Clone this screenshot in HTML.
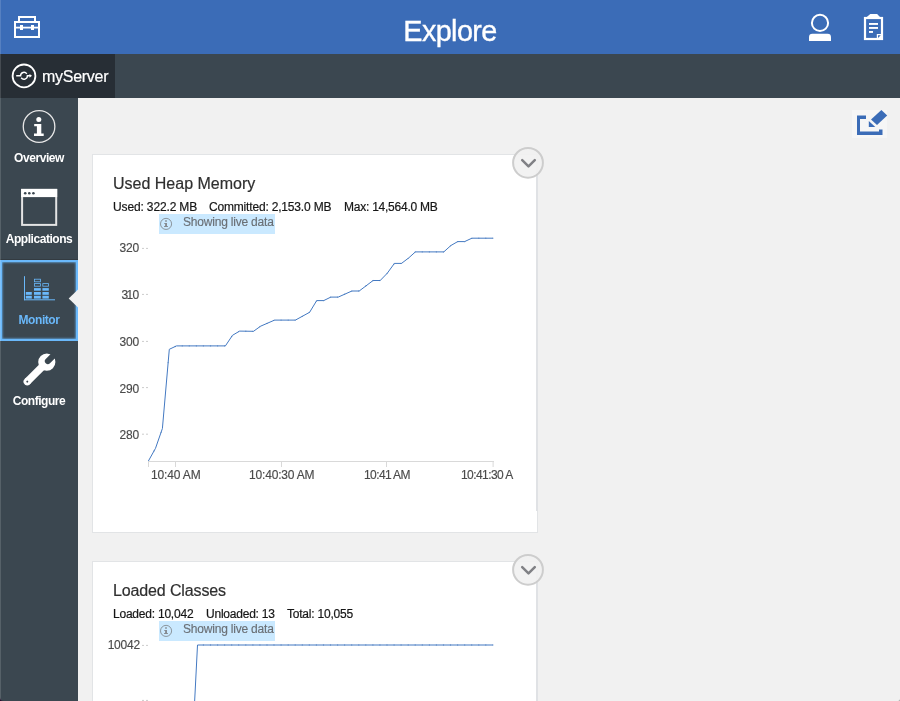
<!DOCTYPE html>
<html>
<head>
<meta charset="utf-8">
<title>Explore</title>
<style>
*{box-sizing:border-box;margin:0;padding:0}
html,body{width:900px;height:701px;overflow:hidden;background:#f1f1f1;font-family:"Liberation Sans",sans-serif;}
body{position:relative}
.abs{position:absolute}
#title,#tabtxt,.nav,.ttl,.stat,.livet,.yl,.xl{will-change:transform}
#hdr{left:0;top:0;width:900px;height:54px;background:#3b6cb7}
#title{left:0;top:0;width:900px;height:54px;text-align:center;color:#fff;font-size:28.8px;line-height:63px;letter-spacing:-0.62px;-webkit-text-stroke:0.35px #fff}
#bar{left:0;top:54px;width:900px;height:44px;background:#3b4750}
#tab{left:0;top:54px;width:115px;height:44px;background:#272e35}
#tabtxt{left:42px;top:55px;height:44px;line-height:44px;color:#fff;font-size:16px;letter-spacing:-0.28px;-webkit-text-stroke:0.2px #fff}
#side{left:0;top:98px;width:78px;height:603px;background:#3b4750}
#ledge{left:0;top:0;width:1px;height:701px;background:rgba(255,255,255,0.14)}
.nav{left:0;width:78px;text-align:center;color:#fff;font-weight:bold;font-size:12px;line-height:16px;letter-spacing:-0.45px;white-space:nowrap}
#sel{left:0;top:260px;width:78px;height:81px;border:2px solid #6ab8fa;box-shadow:inset 0 0 2px 0.5px rgba(106,184,250,.85), 0 -1px 0 #333b41}
.card{background:#fff;border:1px solid #e2e4e6}
.ttl{-webkit-text-stroke:0.2px #2f2f2f;font-size:16px;color:#2f2f2f;line-height:20px;white-space:nowrap;letter-spacing:0px}
.stat{-webkit-text-stroke:0.2px #161616;font-size:12px;color:#161616;line-height:14px;white-space:nowrap;letter-spacing:-0.22px}
.live{background:#cae9ff;height:20px;width:116px}
.livet{-webkit-text-stroke:0.15px #6a6f75;font-size:12px;color:#6a6f75;line-height:14px;white-space:nowrap;letter-spacing:-0.2px}
.yl{-webkit-text-stroke:0.15px #4a4a4a;font-size:12px;color:#4a4a4a;text-align:right;width:60px;line-height:14px;letter-spacing:-0.2px}
.xl{-webkit-text-stroke:0.15px #4a4a4a;font-size:12px;color:#4a4a4a;line-height:14px;white-space:nowrap;letter-spacing:-0.28px}
svg{position:absolute;left:0;top:0;overflow:visible}
</style>
</head>
<body>
<div id="hdr" class="abs"></div>
<div id="title" class="abs">Explore</div>
<div id="bar" class="abs"></div>
<div id="tab" class="abs"></div>
<div id="tabtxt" class="abs">myServer</div>
<div id="side" class="abs"></div>
<div id="sel" class="abs"></div>
<div class="abs nav" style="top:150px">Overview</div>
<div class="abs nav" style="top:231px">Applications</div>
<div class="abs nav" style="top:312px;color:#6ab8fa">Monitor</div>
<div class="abs nav" style="top:393px">Configure</div>

<!-- card 1 -->
<div class="abs card" style="left:92px;top:154px;width:446px;height:379px"></div>
<div class="abs" style="left:536px;top:155px;width:2px;height:356px;background:#e0e2e5"></div>
<div class="abs ttl" style="left:112.6px;top:174.4px">Used Heap Memory</div>
<div class="abs stat" style="left:112.6px;top:200px;letter-spacing:-0.14px">Used: 322.2 MB</div>
<div class="abs stat" style="left:209.2px;top:200px;letter-spacing:-0.18px">Committed: 2,153.0 MB</div>
<div class="abs stat" style="left:343.6px;top:200px;letter-spacing:-0.24px">Max: 14,564.0 MB</div>
<div class="abs live" style="left:159px;top:214px"></div>
<div class="abs livet" style="left:183px;top:215px">Showing live data</div>
<div class="abs yl" style="left:79.4px;top:241px">320</div>
<div class="abs yl" style="left:79.4px;top:288.1px">3<span style="margin:0 -0.5px 0 -1.4px">1</span>0</div>
<div class="abs yl" style="left:79.4px;top:334.6px">300</div>
<div class="abs yl" style="left:79.4px;top:382px">290</div>
<div class="abs yl" style="left:79.4px;top:427.6px">280</div>
<div class="abs xl" style="left:150.8px;top:468.3px;letter-spacing:-0.14px">10:40 AM</div>
<div class="abs xl" style="left:249px;top:468.3px;letter-spacing:-0.18px">10:40:30 AM</div>
<div class="abs xl" style="left:364px;top:468.3px;letter-spacing:-0.6px">10:41 AM</div>
<div class="abs xl" style="left:461px;top:468.3px;letter-spacing:-0.56px">10:41:30 A</div>

<!-- card 2 -->
<div class="abs card" style="left:92px;top:561px;width:446px;height:200px"></div>
<div class="abs" style="left:536px;top:562px;width:2px;height:200px;background:#e0e2e5"></div>
<div class="abs ttl" style="left:112.6px;top:581.4px;letter-spacing:-0.13px">Loaded Classes</div>
<div class="abs stat" style="left:113px;top:607px">Loaded: 10,042</div>
<div class="abs stat" style="left:205.5px;top:607px">Unloaded: 13</div>
<div class="abs stat" style="left:287px;top:607px">Total: 10,055</div>
<div class="abs live" style="left:159px;top:621px"></div>
<div class="abs livet" style="left:183px;top:622px">Showing live data</div>
<div class="abs yl" style="left:80px;top:638px">10042</div>

<div id="ledge" class="abs"></div>
<svg width="900" height="701" viewBox="0 0 900 701">
<path d="M0 701V697.5A3.5 3.5 0 0 0 3.5 701Z" fill="#2a0a2e"/>
<path d="M900 701V699A2 2 0 0 1 898 701Z" fill="#9a9a9a"/>
<!-- toolbox -->
<g id="toolbox" fill="none" stroke="#fff">
<rect x="15" y="22" width="24" height="15" stroke-width="2"/>
<path d="M19 21V17H35V21" stroke-width="2"/>
<path d="M15 27.6H39" stroke-width="1.8"/>
<rect x="20" y="25" width="3" height="5" fill="#fff" stroke="none"/>
<rect x="31" y="25" width="3" height="5" fill="#fff" stroke="none"/>
</g>
<!-- user -->
<g id="user">
<circle cx="820" cy="22.9" r="8.1" fill="none" stroke="#fff" stroke-width="2"/>
<path d="M809 41V37.2Q809 33.8 812.4 33.8H827.6Q831 33.8 831 37.2V41Z" fill="#fff"/>
</g>
<!-- clipboard -->
<g id="clip">
<rect x="865" y="18" width="17" height="21" fill="none" stroke="#fff" stroke-width="2.2"/>
<path d="M866.8 17L870.3 14H877.1L880 17Z" fill="#fff"/>
<rect x="869" y="23" width="9" height="1.9" fill="#fff"/>
<rect x="869" y="27" width="9" height="1.9" fill="#fff"/>
<rect x="869" y="31" width="4" height="1.9" fill="#fff"/>
<rect x="876.8" y="34" width="4.4" height="4" fill="#fff"/>
<path d="M878 35.2H880.8L878 38Z" fill="#3b6cb7"/>
</g>
<!-- server icon -->
<g id="srv" fill="none" stroke="#fff">
<circle cx="24" cy="75.9" r="11.4" stroke-width="1.8"/>
<path d="M16.2 75.8H20.6A3.4 3.4 0 0 1 26.8 73.85" stroke-width="1.4"/>
<path d="M21.2 77.75A3.4 3.4 0 0 0 27.4 75.8H30" stroke-width="1.4"/>
<path d="M29.5 73.9L32 75.8L29.5 77.7Z" fill="#fff" stroke="none"/>
</g>
<!-- overview icon -->
<g id="ov">
<circle cx="39.05" cy="126.5" r="15.8" fill="none" stroke="#e6e6e6" stroke-width="1.3"/>
<circle cx="38.8" cy="119.6" r="2.5" fill="#fff"/>
<path d="M34.2 124H41.3V133.5H43.7V136H34V133.5H36.9V126.3H34.2Z" fill="#fff"/>
</g>
<!-- applications icon -->
<g id="app">
<rect x="22.1" y="189.9" width="34.1" height="35" fill="none" stroke="#e4e4e4" stroke-width="2"/>
<rect x="21.1" y="188.9" width="36.1" height="8.2" fill="#fff"/>
<circle cx="25.2" cy="193.2" r="1.3" fill="#3b4750"/>
<circle cx="29.3" cy="193.2" r="1.3" fill="#3b4750"/>
<circle cx="33.4" cy="193.2" r="1.3" fill="#3b4750"/>
</g>
<!-- monitor icon -->
<g id="mon" fill="#6ab8fa" stroke="none">
<rect x="24" y="276.2" width="1" height="24"/>
<rect x="24" y="299.3" width="31" height="1"/>
<rect x="25.8" y="292" width="6" height="2.8"/><rect x="25.8" y="295.8" width="6" height="2.8"/>
<rect x="34" y="288.1" width="6.8" height="2.6"/><rect x="34" y="292" width="6.8" height="2.8"/><rect x="34" y="295.8" width="6.8" height="2.8"/>
<rect x="42.4" y="288.1" width="6.4" height="2.6"/><rect x="42.4" y="292" width="6.4" height="2.8"/><rect x="42.4" y="295.8" width="6.4" height="2.8"/>
<g fill="none" stroke="#6ab8fa" stroke-width="0.8">
<rect x="34.4" y="279.2" width="6" height="2.6"/><rect x="34.4" y="283.6" width="6" height="2.6"/>
<rect x="42.8" y="283.6" width="5.6" height="2.6"/>
</g>
</g>
<path d="M78 289.4L68.7 298.4L78 307.4Z" fill="#f1f1f1"/>
<!-- wrench -->
<g id="wr" transform="translate(46.8 362.1) rotate(135)">
<circle cx="0" cy="0" r="8.6" fill="#fff"/>
<rect x="0" y="-3.7" width="27.6" height="7.4" fill="#fff"/>
<circle cx="27.6" cy="0" r="3.7" fill="#fff"/>
<circle cx="27.6" cy="0" r="1" fill="#3b4750"/>
<path d="M-10 -3H-1.5A3 3 0 0 1 -1.5 3H-10Z" fill="#3b4750"/>
</g>
<!-- edit icon -->
<g id="edit">
<rect x="852" y="110" width="35" height="28" fill="#f6f6f6"/>
<path d="M857 115.5H866V119H860V131.5H879V129.6H882.5V135H857Z" fill="#3b6cb7"/>
<path d="M881.4 109.9L887.2 115.5L877 125.1L871 119.4Z" fill="#3b6cb7"/>
<path d="M868.8 121V127H875.3Z" fill="#3b6cb7"/>
</g>
<!-- chart 1 -->
<g id="chart1" fill="none">
<path d="M148 461.5H494" stroke="#d9d9d9" stroke-width="1"/>
<path d="M148.5 461V467M175.5 461V467M281.5 461V467M386.5 461V467M493.1 461V467" stroke="#d9d9d9" stroke-width="1"/>
<path d="M142 248.4H148M142 294.4H148M142 341.4H148M142 387.6H148M142 434.2H148" stroke="#cccccc" stroke-width="1" stroke-dasharray="2 2"/>
<polyline transform="translate(0 0.5)" stroke="#4379c2" stroke-width="1" stroke-linejoin="round" points="148.4,460.5 155.5,447.8 162.4,428 169.3,348.8 176.5,345.4 225.4,345.4 232.5,334.8 239.6,330.6 253.5,330.8 260.6,325.7 274.6,319.6 295.4,319.6 309.6,311.8 316.7,300.1 323.7,300.1 330.8,296.6 338.2,296.6 351.9,290.5 359.2,290.5 373.1,280 380.2,280 387.3,272.7 394.4,262.9 401.5,262.9 408.6,257.5 415.4,251.4 443.8,251.4 450.9,245 457.7,241.1 464.6,241.1 471.9,237.7 492.9,237.7"/>
<g fill="#3a6fb8" opacity="0.6"><circle cx="492.9" cy="238.2" r="0.65"/><circle cx="485.8" cy="238.2" r="0.65"/><circle cx="478.8" cy="238.2" r="0.65"/><circle cx="471.7" cy="238.3" r="0.65"/><circle cx="464.7" cy="241.6" r="0.65"/><circle cx="457.6" cy="241.7" r="0.65"/><circle cx="450.5" cy="245.8" r="0.65"/><circle cx="443.5" cy="251.9" r="0.65"/><circle cx="436.4" cy="251.9" r="0.65"/><circle cx="429.4" cy="251.9" r="0.65"/><circle cx="422.3" cy="251.9" r="0.65"/><circle cx="415.2" cy="252.0" r="0.65"/><circle cx="408.2" cy="258.3" r="0.65"/><circle cx="401.1" cy="263.4" r="0.65"/><circle cx="394.1" cy="263.9" r="0.65"/><circle cx="387.0" cy="273.5" r="0.65"/><circle cx="379.9" cy="280.5" r="0.65"/><circle cx="372.9" cy="280.7" r="0.65"/><circle cx="365.8" cy="286.0" r="0.65"/><circle cx="358.8" cy="291.0" r="0.65"/><circle cx="351.7" cy="291.1" r="0.65"/><circle cx="344.6" cy="294.2" r="0.65"/><circle cx="337.6" cy="297.1" r="0.65"/><circle cx="330.5" cy="297.2" r="0.65"/><circle cx="323.5" cy="300.6" r="0.65"/><circle cx="316.4" cy="301.1" r="0.65"/><circle cx="309.3" cy="312.4" r="0.65"/><circle cx="302.3" cy="316.3" r="0.65"/><circle cx="295.2" cy="320.1" r="0.65"/><circle cx="288.2" cy="320.1" r="0.65"/><circle cx="281.1" cy="320.1" r="0.65"/><circle cx="274.0" cy="320.3" r="0.65"/><circle cx="267.0" cy="323.4" r="0.65"/><circle cx="259.9" cy="326.7" r="0.65"/><circle cx="252.9" cy="331.3" r="0.65"/><circle cx="245.8" cy="331.2" r="0.65"/><circle cx="238.7" cy="331.6" r="0.65"/><circle cx="231.7" cy="336.5" r="0.65"/><circle cx="224.6" cy="345.9" r="0.65"/><circle cx="217.6" cy="345.9" r="0.65"/><circle cx="210.5" cy="345.9" r="0.65"/><circle cx="203.4" cy="345.9" r="0.65"/><circle cx="196.4" cy="345.9" r="0.65"/><circle cx="189.3" cy="345.9" r="0.65"/><circle cx="182.3" cy="345.9" r="0.65"/><circle cx="175.2" cy="346.5" r="0.65"/><circle cx="168.1" cy="362.6" r="0.65"/><circle cx="161.1" cy="432.3" r="0.65"/><circle cx="154.0" cy="450.9" r="0.65"/></g>
</g>
<!-- chart 2 -->
<g id="chart2" fill="none">
<path d="M142 645.4H148M142 700.4H148" stroke="#cccccc" stroke-width="1" stroke-dasharray="2 2"/>
<polyline stroke="#4379c2" stroke-width="1" stroke-linejoin="round" points="194.6,702 197.5,645 492.9,645"/>
<g fill="#3a6fb8" opacity="0.6"><circle cx="492.9" cy="645" r="0.65"/><circle cx="485.8" cy="645" r="0.65"/><circle cx="478.8" cy="645" r="0.65"/><circle cx="471.7" cy="645" r="0.65"/><circle cx="464.7" cy="645" r="0.65"/><circle cx="457.6" cy="645" r="0.65"/><circle cx="450.5" cy="645" r="0.65"/><circle cx="443.5" cy="645" r="0.65"/><circle cx="436.4" cy="645" r="0.65"/><circle cx="429.4" cy="645" r="0.65"/><circle cx="422.3" cy="645" r="0.65"/><circle cx="415.2" cy="645" r="0.65"/><circle cx="408.2" cy="645" r="0.65"/><circle cx="401.1" cy="645" r="0.65"/><circle cx="394.1" cy="645" r="0.65"/><circle cx="387.0" cy="645" r="0.65"/><circle cx="379.9" cy="645" r="0.65"/><circle cx="372.9" cy="645" r="0.65"/><circle cx="365.8" cy="645" r="0.65"/><circle cx="358.8" cy="645" r="0.65"/><circle cx="351.7" cy="645" r="0.65"/><circle cx="344.6" cy="645" r="0.65"/><circle cx="337.6" cy="645" r="0.65"/><circle cx="330.5" cy="645" r="0.65"/><circle cx="323.5" cy="645" r="0.65"/><circle cx="316.4" cy="645" r="0.65"/><circle cx="309.3" cy="645" r="0.65"/><circle cx="302.3" cy="645" r="0.65"/><circle cx="295.2" cy="645" r="0.65"/><circle cx="288.2" cy="645" r="0.65"/><circle cx="281.1" cy="645" r="0.65"/><circle cx="274.0" cy="645" r="0.65"/><circle cx="267.0" cy="645" r="0.65"/><circle cx="259.9" cy="645" r="0.65"/><circle cx="252.9" cy="645" r="0.65"/><circle cx="245.8" cy="645" r="0.65"/><circle cx="238.7" cy="645" r="0.65"/><circle cx="231.7" cy="645" r="0.65"/><circle cx="224.6" cy="645" r="0.65"/><circle cx="217.6" cy="645" r="0.65"/><circle cx="210.5" cy="645" r="0.65"/><circle cx="203.4" cy="645" r="0.65"/></g>
</g>
<!-- live info icons -->
<g id="li1" fill="#858b91">
<circle cx="166.05" cy="223.9" r="5.55" fill="none" stroke="#858b91" stroke-width="0.9"/>
<rect x="165.1" y="220.3" width="1.8" height="1.4"/>
<path d="M164.3 223H167V226H167.9V226.9H164.1V226H165.1V223.9H164.3Z"/>
</g>
<g id="li2" fill="#858b91" transform="translate(0 407)">
<circle cx="166.05" cy="223.9" r="5.55" fill="none" stroke="#858b91" stroke-width="0.9"/>
<rect x="165.1" y="220.3" width="1.8" height="1.4"/>
<path d="M164.3 223H167V226H167.9V226.9H164.1V226H165.1V223.9H164.3Z"/>
</g>
<!-- collapse buttons -->
<g id="cb1">
<circle cx="528" cy="162.85" r="14.9" fill="rgba(241,241,241,0.92)" stroke="#cdcdcd" stroke-width="2"/>
<path d="M522.2 160.2L528.5 166.4L534.8 160.2" fill="none" stroke="#808185" stroke-width="2.5" stroke-linecap="round" stroke-linejoin="round"/>
</g>
<g id="cb2" transform="translate(0 407)">
<circle cx="528" cy="162.85" r="14.9" fill="rgba(241,241,241,0.92)" stroke="#cdcdcd" stroke-width="2"/>
<path d="M522.2 160.2L528.5 166.4L534.8 160.2" fill="none" stroke="#808185" stroke-width="2.5" stroke-linecap="round" stroke-linejoin="round"/>
</g>
</svg>
</body>
</html>
